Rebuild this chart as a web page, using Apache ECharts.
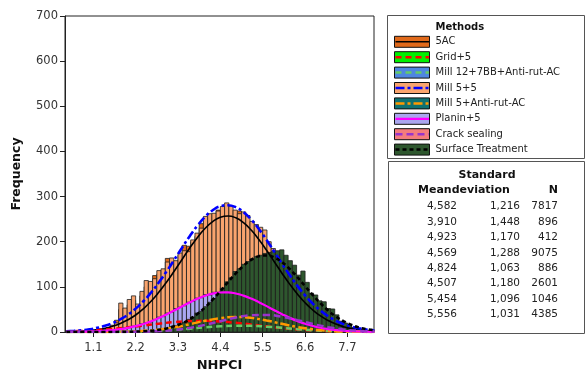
<!DOCTYPE html>
<html>
<head>
<meta charset="utf-8">
<script src="https://cdn.jsdelivr.net/npm/echarts@6/dist/echarts.min.js"></script>
<style>html,body{margin:0;padding:0;background:#fff}#c{width:587px;height:373px}</style>
</head>
<body>
<div id="c"></div>
<script>
// ---- data ----
const methods = ['5AC','Grid+5','Mill 12+7BB+Anti-rut-AC','Mill 5+5','Mill 5+Anti-rut-AC','Planin+5','Crack sealing','Surface Treatment'];
const means = [4.582,3.910,4.923,4.569,4.824,4.507,5.454,5.556];
const stdDevs = [1.216,1.448,1.170,1.288,1.063,1.180,1.096,1.031];
const counts = [7817,896,412,9075,886,2601,1046,4385];
const xTicks = [1.1,2.2,3.3,4.4,5.5,6.6,7.7];

// histogram bins (left edge of first bin, width)
const binStart = 0.88;
const binWidth = 0.11;
const hist5AC = [1,2,2,3,5,8,13,26,50,48,60,70,58,80,100,108,125,128,130,163,150,155,170,192,190,200,212,240,245,255,258,270,265,270,268,262,268,255,245,232,222,215,205,185,170,158,142,126,110,95,80,66,54,44,35,28,22,16,12,9,6,4,3,2,1,1,0,0];
const histMill55 = [2,3,3,5,6,10,15,20,64,53,72,80,62,90,114,112,118,136,140,155,164,158,175,180,178,204,219,230,256,262,263,268,278,286,279,270,262,266,258,245,238,232,226,200,185,172,158,140,126,110,96,80,70,60,50,42,34,26,20,15,11,8,6,4,3,2,1,1];
const histPlanin = [1,1,2,2,3,3,4,6,7,9,10,13,14,18,21,22,28,33,34,42,44,52,55,58,66,68,75,76,83,82,88,86,90,87,88,84,83,78,77,72,70,63,60,53,50,44,41,34,32,26,24,19,17,14,12,10,8,7,5,4,3,3,2,2,1,1,0,0];
const histSurface = [0,0,0,0,0,0,0,0,0,0,0,0,1,1,2,2,3,5,6,8,12,14,18,21,28,33,42,46,56,66,74,88,97,111,120,134,140,150,156,162,167,170,174,176,178,180,182,170,158,148,126,135,110,86,82,69,67,52,51,38,24,20,14,10,7,4,2,1];

// normal curves read along NHPCI
const curveXFine = [0.4,0.6,0.8,1.0,1.2,1.4,1.6,1.8,2.0,2.2,2.4,2.6,2.8,3.0,3.2,3.4,3.6,3.8,4.0,4.2,4.4,4.6,4.8,5.0,5.2,5.4,5.6,5.8,6.0,6.2,6.4,6.6,6.8,7.0,7.2,7.4,7.6,7.8,8.0,8.2,8.4];
const curveX = [0.4,0.8,1.2,1.6,2.0,2.4,2.8,3.2,3.6,4.0,4.4,4.8,5.2,5.6,6.0,6.4,6.8,7.2,7.6,8.0,8.4];
const curve5AC = [0.7,1.2,2.0,3.4,5.4,8.4,12.7,18.8,27.0,37.7,51.4,68.1,87.9,110.3,134.7,160.2,185.5,209.0,229.2,244.6,254.2,257,252.9,242.3,225.9,205.0,181.1,155.6,130.2,106.0,84.1,64.8,48.7,35.6,25.3,17.5,11.8,7.7,4.9,3.1,1.9];
const curveMill55 = [1.5,2.4,3.9,6.0,9.2,13.6,19.7,27.9,38.4,51.8,68.1,87.3,109.5,133.8,159.7,186.1,211.8,235.1,254.9,269.7,278.6,280.9,276.5,265.7,249.3,228.2,204,177.9,151.6,126.1,102.2,81.1,62.7,47.4,34.9,25.1,17.6,12.1,8.1,5.3,3.4];
const curvePlanin = [0.2,0.4,0.6,1.1,1.7,2.7,4.2,6.3,9.2,13.0,17.8,23.8,30.9,38.9,47.6,56.6,65.4,73.5,80.2,85.0,87.5,87.6,85.2,80.5,74.0,66.0,57.3,48.2,39.5,31.4,24.3,18.2,13.3,9.4,6.5,4.4,2.8,1.8,1.1,0.7,0.4];
const curveSurface = [0,0,0,0,0,0.1,0.1,0.2,0.4,0.9,1.6,2.8,4.8,7.9,12.5,19.1,28.0,39.8,54.3,71.5,90.5,110.4,129.7,146.7,159.9,167.8,169.5,165.0,154.7,139.6,121.4,101.6,81.9,63.6,47.6,34.3,23.8,15.9,10.2,6.3,3.8];
const curveGrid = [1.3,2.5,4.3,6.9,10.3,14.3,18.4,21.9,24.1,24.7,23.3,20.4,16.6,12.5,8.7,5.6,3.4,1.9,1.0,0.5,0.2];
const curveMill12 = [0,0,0.1,0.3,0.6,1.4,2.7,4.7,7.4,10.3,12.7,13.9,13.6,11.8,9.2,6.3,3.9,2.1,1.0,0.4,0.2];
const curveMillAR = [0,0,0.1,0.3,1.0,2.5,5.4,10.4,17.2,24.7,30.7,33.3,31.3,25.5,18.1,11.1,5.9,2.7,1.1,0.4,0.1];
const curveCrack = [0,0,0,0.1,0.3,0.8,2.0,4.6,9.1,15.8,24.0,31.9,37.1,37.8,33.7,26.3,17.9,10.7,5.6,2.6,1.0];

// ---- styles ----
const fills = ['#e0691a','#00f000','#4f86e0','#f9a46e','#0e7272','#aaa6ef','#f47c7c','#2e572e'];
const lineColors = ['#000000','#ff0000','#66cc66','#0000ff','#ff9900','#ff00ff','#9933cc','#000000'];
const lineDashes = ['solid',[6,4],[6,4],[9,3,3,3],[9,3,3,3],'solid',[7,4],[4,3]];
const lineWidths = [1.6,2.5,2.5,2.6,2.5,2.2,2.5,2.6];
const FONT = 'DejaVu Sans';

const curves = [
  [curveXFine, curve5AC],[curveX, curveGrid],[curveX, curveMill12],[curveXFine, curveMill55],
  [curveX, curveMillAR],[curveXFine, curvePlanin],[curveX, curveCrack],[curveXFine, curveSurface]
];
const hists = [[0,hist5AC],[3,histMill55],[5,histPlanin],[7,histSurface]];

function histSeries(idx, arr){
  const data = arr.map((v,i)=>[binStart+i*binWidth, binStart+(i+1)*binWidth, v]);
  return {
    type:'custom', name:methods[idx], clip:true, z:2,
    encode:{x:[0,1], y:2},
    data,
    renderItem(params, api){
      const v = api.value(2);
      if(!v) return null;
      const p0 = api.coord([api.value(0), v]);
      const p1 = api.coord([api.value(1), 0]);
      return {type:'rect', shape:{x:p0[0], y:p0[1], width:p1[0]-p0[0], height:p1[1]-p0[1]},
        style:{fill:fills[idx], stroke:'#1e1e1e', lineWidth:0.8}};
    }
  };
}

const series = [];
hists.forEach(h=>series.push(histSeries(h[0], h[1])));
curves.forEach((c,i)=>{
  const xs = c[0], ys = c[1];
  series.push({
    type:'line', name:methods[i]+' curve', smooth:true, showSymbol:false, symbol:'none', z:5+i, clip:true,
    data: xs.map((x,j)=>[x,ys[j]]),
    lineStyle:{color:lineColors[i], width:lineWidths[i], type:lineDashes[i]},
    silent:true, animation:false
  });
});

// ---- legend and table graphics ----
const graphics = [];
const LX = 387, LY = 15, LW = 197, LH = 143;
graphics.push({type:'rect', shape:{x:LX+0.5,y:LY+0.5,width:LW,height:LH}, style:{fill:'#fff', stroke:'#555', lineWidth:1}});
graphics.push({type:'text', x:435.5, y:27, style:{text:'Methods', font:'bold 10px '+FONT, fill:'#111', verticalAlign:'middle'}});
methods.forEach((m,i)=>{
  const cy = 41.8 + i*15.4;
  graphics.push({type:'rect', shape:{x:394.5, y:cy-5.5, width:35, height:11}, style:{fill:fills[i], stroke:'#111', lineWidth:1}});
  graphics.push({type:'line', shape:{x1:395.5, y1:cy, x2:429, y2:cy}, style:{stroke:lineColors[i], lineWidth:Math.min(lineWidths[i],2.5), lineDash:lineDashes[i]==='solid'?null:lineDashes[i]}});
  graphics.push({type:'text', x:435.5, y:cy, style:{text:m, font:'10px '+FONT, fill:'#222', verticalAlign:'middle'}});
});

const TX = 388, TY = 161, TW = 196, TH = 172;
graphics.push({type:'rect', shape:{x:TX+0.5,y:TY+0.5,width:TW,height:TH}, style:{fill:'#fff', stroke:'#555', lineWidth:1}});
graphics.push({type:'text', x:487, y:175, style:{text:'Standard', font:'bold 11px '+FONT, fill:'#111', align:'center', verticalAlign:'middle'}});
graphics.push({type:'text', x:418, y:190, style:{text:'Meandeviation', font:'bold 11px '+FONT, fill:'#111', verticalAlign:'middle'}});
graphics.push({type:'text', x:558, y:190, style:{text:'N', font:'bold 11px '+FONT, fill:'#111', align:'right', verticalAlign:'middle'}});
const fmt3 = v => v.toFixed(3).replace('.', ',');
means.forEach((mv,i)=>{
  const cy = 206.7 + i*15.37;
  graphics.push({type:'text', x:457, y:cy, style:{text:fmt3(mv), font:'10.5px '+FONT, fill:'#222', align:'right', verticalAlign:'middle'}});
  graphics.push({type:'text', x:520, y:cy, style:{text:fmt3(stdDevs[i]), font:'10.5px '+FONT, fill:'#222', align:'right', verticalAlign:'middle'}});
  graphics.push({type:'text', x:558, y:cy, style:{text:String(counts[i]), font:'10.5px '+FONT, fill:'#222', align:'right', verticalAlign:'middle'}});
});

const chart = echarts.init(document.getElementById('c'), null, {renderer:'canvas'});
chart.setOption({
  animation:false,
  backgroundColor:'#fff',
  textStyle:{fontFamily:FONT},
  grid:{left:65, top:16, right:213, bottom:41, containLabel:false, outerBoundsMode:'none', show:true, borderColor:'#222', borderWidth:1, backgroundColor:'transparent'},
  xAxis:{
    type:'value', min:0.365, max:8.39,
    name:'NHPCI', nameLocation:'middle', nameGap:27,
    nameTextStyle:{fontFamily:FONT, fontWeight:'bold', fontSize:13, color:'#111'},
    axisLine:{show:true, onZero:false, lineStyle:{color:'#222', width:1}},
    axisTick:{show:true, length:5, customValues:xTicks, lineStyle:{color:'#222'}},
    axisLabel:{customValues:xTicks, formatter:v=>Number(v).toFixed(1), fontFamily:FONT, fontSize:11.5, color:'#333', margin:10},
    splitLine:{show:false}
  },
  yAxis:{
    type:'value', min:0, max:700, interval:100,
    name:'Frequency', nameLocation:'middle', nameGap:42,
    nameTextStyle:{fontFamily:FONT, fontWeight:'bold', fontSize:12.5, color:'#111'},
    axisLine:{show:true, lineStyle:{color:'#222', width:1}},
    axisTick:{show:true, length:5, lineStyle:{color:'#222'}},
    axisLabel:{fontFamily:FONT, fontSize:11.5, color:'#333', margin:7},
    splitLine:{show:false}
  },
  series,
  graphic:graphics
});
</script>
</body>
</html>
